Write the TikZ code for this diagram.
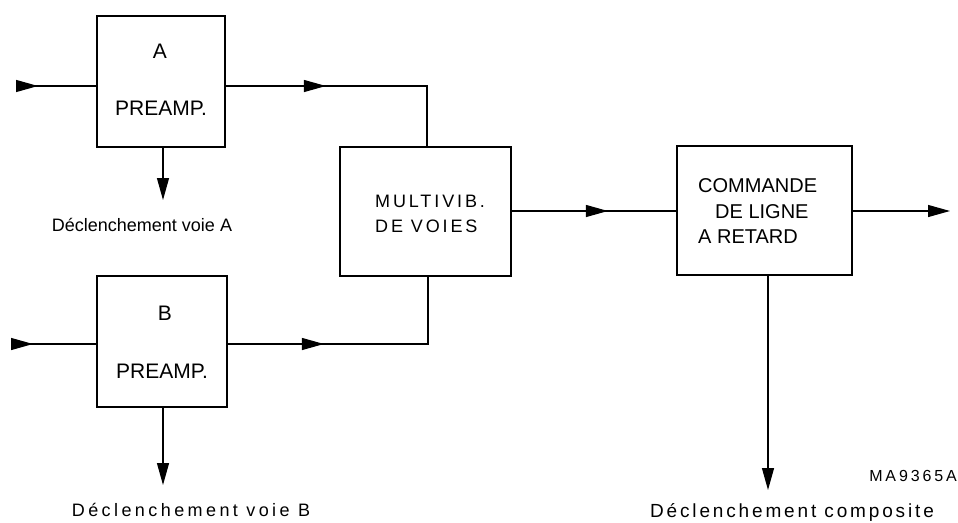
\documentclass[tikz,border=0pt]{standalone}
\usepackage{fontspec}
\setmainfont{Liberation Sans}
\usetikzlibrary{arrows.meta,decorations.markings}
\newcommand{\fnt}[2]{\fontsize{#1}{#1}\selectfont\addfontfeatures{LetterSpace=#2}}
\tikzset{
  blk/.style={draw, line width=1.8pt, minimum width=#1, inner sep=0pt},
  wire/.style={line width=1.2pt},
  tri/.tip={Triangle[length=22pt,width=12pt]},
  midarr/.style={postaction=decorate, decoration={markings, mark=at position #1 with {\arrow{tri}}}},
  endarr/.style={-{tri}},
  lbl/.style={inner sep=0pt},
}
\begin{document}
\begin{tikzpicture}[x=1pt,y=-1pt]
\useasboundingbox (0,0) rectangle (958,522);
% blocks
\node[blk=128pt, minimum height=131pt] (boxA) at (161,81.5) {};
\node[blk=130pt, minimum height=131pt] (boxB) at (162,341.5) {};
\node[blk=171pt, minimum height=129pt] (mv) at (425.5,211.5) {};
\node[blk=175pt, minimum height=129pt] (cmd) at (764.5,210.5) {};
% texts in blocks
\node[lbl, font=\fnt{21}{0}, anchor=base] (tA) at (160,58) {A};
\node[lbl, font=\fnt{21}{0}, anchor=base] (pA) at (161,115) {PREAMP.};
\node[lbl, font=\fnt{21}{0}, anchor=base] (tB) at (165,320) {B};
\node[lbl, font=\fnt{21}{0}, anchor=base] (pB) at (162,378) {PREAMP.};
\node[lbl, font=\fnt{18}{16}, anchor=base west] (mv1) at (375,207) {MULTIVIB.};
\node[lbl, font=\fnt{18}{16}, anchor=base west] (mv2) at (375,232) {DE VOIES};
\node[lbl, font=\fnt{20}{0}, anchor=base west] (c1) at (698,192) {COMMANDE};
\node[lbl, font=\fnt{20}{0}, anchor=base west] (c2) at (715,218) {DE LIGNE};
\node[lbl, font=\fnt{20}{0}, anchor=base west] (c3) at (698,243) {A RETARD};
% coordinates
\coordinate (inA) at (18,86);
\coordinate (inB) at (13,344);
\coordinate (jA) at (427,86);
\coordinate (jB) at (428,344);
\coordinate (dA) at (163,200);
\coordinate (dB) at (163,485);
\coordinate (out) at (950,211);
\coordinate (dC) at (768,490);
% connectors
\draw[wire, midarr=20pt] (inA) -- (inA -| boxA.west);
\draw[wire, midarr=20pt] (inB) -- (inB -| boxB.west);
\draw[wire, midarr=100pt] (jA -| boxA.east) -- (jA) -- (jA |- mv.north);
\draw[wire, midarr=96pt] (jB -| boxB.east) -- (jB) -- (jB |- mv.south);
\draw[wire, endarr] (dA |- boxA.south) -- (dA);
\draw[wire, endarr] (dB |- boxB.south) -- (dB);
\draw[wire, midarr=96pt] (mv.east |- out) -- (cmd.west |- out);
\draw[wire, endarr] (cmd.east |- out) -- (out);
\draw[wire, endarr] (dC |- cmd.south) -- (dC);
% outer labels
\node[lbl, font=\fnt{18}{0}, anchor=base] (lA) at (142,231) {Déclenchement voie A};
\node[lbl, font=\fnt{18}{19}, anchor=base] (lB) at (191,516) {Déclenchement voie B};
\node[lbl, font=\fnt{19}{15}, anchor=base] (lC) at (792,517) {Déclenchement composite};
\node[lbl, font=\fnt{16}{18}, anchor=base east] (ref) at (957,481) {MA9365A};
\end{tikzpicture}
\end{document}
